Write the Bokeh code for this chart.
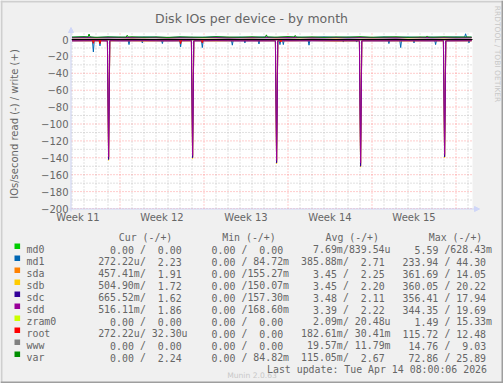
import numpy as np
from bokeh.plotting import figure
from bokeh.models import (Range1d, FixedTicker, LinearAxis, BoxAnnotation, Arrow, NormalHead)
from bokeh.core.properties import value
from bokeh.embed import file_html
from bokeh.resources import INLINE

# ---------------- data ----------------
DEVICES = ["md0", "md1", "sda", "sdb", "sdc", "sdd", "zram0", "root", "www", "var"]
COLORS = ["#00CC00", "#0066B3", "#FF8000", "#FFCC00", "#330099",
          "#990099", "#CCFF00", "#FF0000", "#808080", "#008F00"]

Y_TICKS = [0, -20, -40, -60, -80, -100, -120, -140, -160, -180, -200]
Y_MINOR = [-10, -30, -50, -70, -90, -110, -130, -150, -170, -190]
WEEK_LABELS = ["Week 11", "Week 12", "Week 13", "Week 14", "Week 15"]
WEEK_MID = [0.5, 7.5, 14.5, 21.5, 28.5]          # days from left edge
WEEK_START = [4, 11, 18, 25, 32]
DAY_MINOR = [0, 1, 2, 3, 5, 6, 7, 8, 9, 10, 12, 13, 14, 15, 16, 17, 19, 20, 21,
             22, 23, 24, 26, 27, 28, 29, 30, 31, 33]

# legend values (read / write)
CUR_READ = ["0.00", "272.22u", "457.41m", "504.90m", "665.52m", "516.11m", "0.00", "272.22u", "0.00", "0.00"]
CUR_WRITE = ["0.00", "2.23", "1.91", "1.72", "1.62", "1.86", "0.00", "32.30u", "0.00", "2.24"]
MIN_READ = ["0.00", "0.00", "0.00", "0.00", "0.00", "0.00", "0.00", "0.00", "0.00", "0.00"]
MIN_WRITE = ["0.00", "84.72m", "155.27m", "150.07m", "157.30m", "168.60m", "0.00", "0.00", "0.00", "84.82m"]
AVG_READ = ["7.69m", "385.88m", "3.45", "3.45", "3.48", "3.39", "2.09m", "182.61m", "19.57m", "115.05m"]
AVG_WRITE = ["839.54u", "2.71", "2.25", "2.20", "2.11", "2.22", "20.48u", "30.41m", "11.79m", "2.67"]
MAX_READ = ["5.59", "233.94", "361.69", "360.05", "356.41", "344.35", "1.49", "115.72", "14.76", "72.86"]
MAX_WRITE = ["628.43m", "44.30", "14.05", "20.22", "17.94", "19.69", "15.33m", "12.48", "9.03", "25.89"]

# time (days) of samples
T_FLAT = [0, 33.3]
T_DISK_R = [0, 2, 2.95, 3.05, 3.15, 4, 6, 8, 9.95, 10.05, 10.15, 12, 14, 16, 16.95, 17.05, 17.15,
            18, 20, 22, 23.95, 24.05, 24.15, 26, 28, 30, 30.95, 31.05, 31.15, 32, 33.3]
T_W = [0, 1, 2, 3, 4, 5, 6, 7, 8, 9, 10, 11, 12, 13, 14, 15, 16, 17, 18, 19, 20, 21, 22, 23,
       24, 25, 26, 27, 28, 29, 30, 31, 32, 33, 33.3]

# reads (IOs/s, plotted downward)
sda_read = [1.3, 1.6, 1.4, 141, 1.5, 1.2, 1.7, 1.3, 1.5, 139, 1.4, 1.6, 1.2, 1.5, 1.3, 145,
            1.6, 1.4, 1.2, 1.7, 1.4, 148, 1.3, 1.5, 1.6, 1.2, 1.5, 138, 1.4, 1.3, 1.5]
sdb_read = [1.4, 1.5, 1.3, 143, 1.6, 1.3, 1.5, 1.4, 1.6, 141, 1.3, 1.5, 1.4, 1.3, 1.5, 147,
            1.4, 1.5, 1.3, 1.6, 1.5, 151, 1.4, 1.3, 1.5, 1.4, 1.6, 140, 1.3, 1.5, 1.4]
sdc_read = [1.5, 1.4, 1.6, 142, 1.4, 1.5, 1.3, 1.6, 1.4, 140, 1.5, 1.4, 1.6, 1.4, 1.6, 146,
            1.5, 1.3, 1.5, 1.4, 1.6, 150, 1.5, 1.6, 1.3, 1.5, 1.4, 139, 1.6, 1.4, 1.5]
sdd_read = [1.6, 1.3, 1.5, 139, 1.3, 1.6, 1.4, 1.5, 1.3, 137, 1.6, 1.3, 1.5, 1.6, 1.4, 143,
            1.3, 1.6, 1.4, 1.5, 1.3, 146, 1.6, 1.4, 1.5, 1.6, 1.3, 136, 1.5, 1.6, 1.3]

md1_read_t = [0,
              1.70, 1.78, 1.86, 2.25, 2.33, 2.41, 4.67, 4.75, 4.83, 5.78, 5.86, 5.94,
              7.45, 7.53, 7.61, 8.97, 9.05, 9.13, 10.78, 10.86, 10.94, 13.28, 13.36, 13.44,
              14.33, 14.41, 14.49, 15.50, 15.58, 15.66, 17.25, 17.33, 17.41, 17.53, 17.61, 17.69,
              19.67, 19.75, 19.83, 22.53, 22.61, 22.69, 23.64, 23.72, 23.80, 26.33, 26.41, 26.49,
              27.31, 27.39, 27.47, 28.42, 28.50, 28.58, 30.22, 30.30, 30.38, 33.00, 33.08, 33.16,
              33.3]
md1_read = [0.3,
            0.4, 14.7, 0.3, 0.3, 7.5, 0.4, 0.3, 6.0, 0.2, 0.3, 4.0, 0.4,
            0.3, 4.8, 0.3, 0.4, 8.7, 0.3, 0.3, 9.5, 0.4, 0.3, 6.7, 0.3,
            0.2, 4.0, 0.3, 0.4, 5.3, 0.3, 0.3, 6.0, 0.4, 0.3, 6.0, 0.3,
            0.4, 6.7, 0.3, 0.3, 3.0, 0.2, 0.3, 3.0, 0.4, 0.3, 4.8, 0.3,
            0.4, 9.5, 0.3, 0.3, 4.0, 0.4, 0.3, 6.0, 0.3, 0.3, 4.0, 0.4,
            0.3]
root_read_t = [0, 1.70, 1.78, 1.86, 2.25, 2.33, 2.41, 8.97, 9.05, 9.13, 10.78, 10.86, 10.94,
               17.32, 17.40, 17.48, 33.3]
root_read = [0.1, 0.1, 4.5, 0.1, 0.1, 5.0, 0.1, 0.1, 5.0, 0.1, 0.1, 4.0, 0.1, 0.1, 3.0, 0.1, 0.1]
md0_read = [0.0, 0.0]
zram0_read = [0.0, 0.0]
www_read = [0.0, 0.0]
var_read = [0.1, 0.1]

# writes (IOs/s, plotted upward)
md1_write_t = [0, 1, 2, 3, 4, 5, 6, 7, 8, 9, 10, 11, 12, 13, 14, 15, 16, 17, 18, 19, 20, 21,
               22, 23, 24, 25, 26, 27, 28, 29, 30, 31, 32, 32.72, 32.80, 32.88, 33, 33.3]
md1_write = [2.6, 3.1, 2.4, 2.9, 2.7, 2.5, 3.0, 2.8, 2.4, 2.9, 2.6, 2.7, 3.2, 2.5, 2.8, 2.6,
             3.0, 2.4, 2.9, 2.7, 2.5, 3.1, 2.6, 2.8, 2.7, 2.4, 3.0, 2.6, 2.9, 2.5, 2.8, 2.7,
             3.0, 2.8, 6.8, 2.7, 2.6, 2.7]
sda_write = [2.1, 2.4, 2.0, 2.3, 2.2, 1.9, 2.5, 2.2, 2.0, 2.3, 2.1, 2.4, 2.2, 2.0, 2.3, 2.1,
             2.5, 1.9, 2.2, 2.3, 2.0, 2.4, 2.1, 2.2, 2.3, 2.0, 2.4, 2.1, 2.2, 2.0, 2.3, 2.2,
             2.1, 2.4, 2.2]
sdb_write = [2.2, 2.0, 2.3, 2.1, 2.4, 2.2, 2.0, 2.3, 2.1, 2.2, 2.4, 2.0, 2.1, 2.3, 2.2, 2.0,
             2.2, 2.4, 2.1, 2.0, 2.3, 2.2, 2.0, 2.4, 2.1, 2.2, 2.0, 2.3, 2.1, 2.4, 2.2, 2.0,
             2.3, 2.1, 2.2]
sdc_write = [2.0, 2.2, 2.1, 1.9, 2.3, 2.0, 2.2, 2.1, 1.9, 2.2, 2.0, 2.3, 2.1, 1.9, 2.2, 2.0,
             2.1, 2.3, 1.9, 2.2, 2.0, 2.1, 2.3, 1.9, 2.1, 2.2, 2.0, 1.9, 2.3, 2.1, 2.0, 2.2,
             1.9, 2.1, 2.0]
sdd_write = [2.3, 2.1, 2.2, 2.4, 2.0, 2.3, 2.1, 2.4, 2.2, 2.0, 2.3, 2.2, 2.4, 2.1, 2.0, 2.3,
             2.2, 2.1, 2.4, 2.3, 2.1, 2.0, 2.3, 2.2, 2.4, 2.1, 2.2, 2.0, 2.3, 2.4, 2.1, 2.3,
             2.2, 2.0, 2.3]
var_write_t = [0, 1, 1.34, 1.42, 1.50, 2, 3, 4, 4.52, 4.60, 4.68, 5, 6, 7, 8, 9, 10, 11, 12,
               13, 14, 15, 16, 16.12, 16.20, 16.28, 17, 18, 18.52, 18.60, 18.68, 19, 20, 21,
               22, 23, 24, 25, 26, 27, 28, 29, 29.52, 29.60, 29.68, 30, 31, 32, 33, 33.3]
var_write = [2.9, 3.3, 3.0, 6.5, 3.1, 2.6, 3.1, 2.8, 2.9, 5.0, 3.0, 3.2, 2.7, 3.0, 2.5, 3.1,
             2.8, 2.6, 3.3, 2.9, 2.7, 3.2, 2.6, 2.9, 5.5, 3.0, 2.8, 3.4, 3.0, 4.8, 2.9, 2.7,
             3.1, 2.6, 3.0, 2.8, 3.3, 2.7, 2.9, 3.2, 2.6, 3.0, 2.9, 4.2, 3.0, 2.7, 3.1, 2.8,
             3.0, 2.9]
md0_write = [0.0, 0.0]
zram0_write = [0.0, 0.0]
root_write = [0.0, 0.0]
www_write = [0.0, 0.0]

SERIES = {
    "md0":   (T_FLAT, md0_read, T_FLAT, md0_write),
    "md1":   (md1_read_t, md1_read, md1_write_t, md1_write),
    "sda":   (T_DISK_R, sda_read, T_W, sda_write),
    "sdb":   (T_DISK_R, sdb_read, T_W, sdb_write),
    "sdc":   (T_DISK_R, sdc_read, T_W, sdc_write),
    "sdd":   (T_DISK_R, sdd_read, T_W, sdd_write),
    "zram0": (T_FLAT, zram0_read, T_FLAT, zram0_write),
    "root":  (root_read_t, root_read, T_FLAT, root_write),
    "www":   (T_FLAT, www_read, T_FLAT, www_write),
    "var":   (T_FLAT, var_read, var_write_t, var_write),
}

# ---------------- layout ----------------
W, H = 503, 383
FL, FB, FT, PW = 71, 208, 32, 401        # plot area: left, bottom, top (canvas px), width
XS = 12.0                                # px per day
YMIN, YMAX = -200.0, 8.3
YS = (FB - FT) / (YMAX - YMIN)           # px per IO/s
X_START = -1.0 / 24
X_END = X_START + PW / XS

TXT = "#666666"
SANS = "DejaVu Sans"
MONO = "DejaVu Sans Mono"

# the frame covers the whole canvas; the default ranges are set so that the
# plot area lands where the reference draws it
p = figure(width=W, height=H, output_backend="svg", toolbar_location=None, title=None,
           x_range=Range1d(X_START - FL / XS, X_START + (W - FL) / XS),
           y_range=Range1d(YMIN - (H - FB) / YS, YMIN + FB / YS),
           x_axis_type=None, y_axis_type=None, min_border=0)
p.extra_x_ranges = {"px": Range1d(0, W)}
p.extra_y_ranges = {"px": Range1d(0, H)}
p.background_fill_color = "#f0f0f0"
p.border_fill_color = "#f0f0f0"
p.outline_line_color = None
p.grid.visible = False

PX = dict(x_range_name="px", y_range_name="px")

# canvas border and white plot area
p.quad(left=[0, 0], right=[W, 2], bottom=[H - 2, 0], top=[H, H],
       fill_color="#cfcfcf", line_color=None, **PX)
p.quad(left=[0, W - 2], right=[W, W], bottom=[0, 0], top=[2, H],
       fill_color="#9e9e9e", line_color=None, **PX)
p.add_layout(BoxAnnotation(left=X_START, right=X_END, bottom=YMIN, top=YMAX,
                           fill_color="#ffffff", fill_alpha=1.0, line_color=None,
                           level="underlay"))

# grid
p.segment(x0=DAY_MINOR, x1=DAY_MINOR, y0=YMIN, y1=YMAX, line_color="#b4b4b4",
          line_alpha=0.8, line_dash="1 2", line_width=1)
p.segment(x0=X_START, x1=X_END, y0=Y_MINOR, y1=Y_MINOR, line_color="#b4b4b4",
          line_alpha=0.8, line_dash="1 2", line_width=1)
p.segment(x0=WEEK_START, x1=WEEK_START, y0=YMIN, y1=YMAX, line_color="#ff0000",
          line_alpha=0.4, line_dash="1 2", line_width=1)
p.segment(x0=X_START, x1=X_END, y0=Y_TICKS, y1=Y_TICKS, line_color="#ff0000",
          line_alpha=0.4, line_dash="1 2", line_width=1)

# axes (fixed at the plot-area edges)
yaxis = LinearAxis(fixed_location=X_START, bounds=(YMIN, 0),
                   ticker=FixedTicker(ticks=Y_TICKS),
                   axis_label="IOs/second read (-) / write (+)",
                   axis_label_text_font=SANS, axis_label_text_font_size="10px",
                   axis_label_text_font_style="normal", axis_label_text_color=TXT,
                   axis_label_standoff=18,
                   major_label_text_font=SANS, major_label_text_font_size="10px",
                   major_label_text_color=TXT, major_label_standoff=3,
                   axis_line_color=None, major_tick_line_color=None,
                   major_tick_out=0, major_tick_in=0,
                   minor_tick_line_color=None, minor_tick_out=0, minor_tick_in=0)
xaxis = LinearAxis(fixed_location=YMIN, bounds=(X_START, X_END),
                   ticker=FixedTicker(ticks=WEEK_MID),
                   major_label_overrides={t: lab for t, lab in zip(WEEK_MID, WEEK_LABELS)},
                   major_label_text_font=SANS, major_label_text_font_size="10px",
                   major_label_text_color=TXT, major_label_standoff=3,
                   axis_line_color=None, major_tick_line_color=None,
                   major_tick_out=0, major_tick_in=0,
                   minor_tick_line_color=None, minor_tick_out=0, minor_tick_in=0)
p.add_layout(yaxis, "left")
p.add_layout(xaxis, "below")

# data lines
for name, col in zip(DEVICES, COLORS):
    tr, r, tw, w = SERIES[name]
    p.line(tr, -np.asarray(r, dtype=float), line_color=col, line_width=1)
    p.line(tw, np.asarray(w, dtype=float), line_color=col, line_width=1)

# zero rule across the plot area only
p.segment(x0=X_START, x1=X_END, y0=0, y1=0, line_color="#000000", line_width=1)

# axis arrows
AX = "#cfd6f8"
p.add_layout(Arrow(x_start=X_START - 0.5 / XS, y_start=YMIN - 3 / YS,
                   x_end=X_START - 0.5 / XS, y_end=YMIN + (FB - 27) / YS,
                   line_color=AX, line_width=1,
                   end=NormalHead(size=5, fill_color=AX, line_color=AX, line_width=1)))
p.add_layout(Arrow(x_start=X_START - 3 / XS, y_start=YMIN - 0.5 / YS,
                   x_end=X_START + (479 - FL) / XS, y_end=YMIN - 0.5 / YS,
                   line_color=AX, line_width=1,
                   end=NormalHead(size=5, fill_color=AX, line_color=AX, line_width=1)))

# title & side texts (canvas pixel positions, y measured from the top)
p.text(x=[251], y=[H - 17.5], text=["Disk IOs per device - by month"],
       text_font=value(SANS), text_font_size=value("12.5px"), text_color=TXT,
       text_align="center", text_baseline="alphabetic", **PX)
p.text(x=[496.5], y=[H - 53.5], text=["RRDTOOL / TOBI OETIKER"],
       text_font=value(SANS), text_font_size=value("7.5px"), text_color="#c8c8c8",
       text_align="center", text_baseline="middle", angle=-np.pi / 2, **PX)
p.text(x=[251.5], y=[H - 375], text=["Munin 2.0.63"],
       text_font=value(SANS), text_font_size=value("7.6px"), text_color="#c8c8c8",
       text_align="center", text_baseline="alphabetic", **PX)

# legend
CW = 5.97
X0 = 26.0
lx, ly, lt = [], [], []


def add(X, Y, s):
    lx.append(X)
    ly.append(H - Y)
    lt.append(s)


for hx, htxt in zip([118.3, 221.7, 325.0, 428.3],
                    ["Cur (-/+)", "Min (-/+)", "Avg (-/+)", "Max (-/+)"]):
    add(hx, 236.9, htxt)


def numlen(v):
    return len(v) - 1 if v[-1].isalpha() else len(v)


COLS = [(12, CUR_READ, CUR_WRITE), (29, MIN_READ, MIN_WRITE),
        (46, AVG_READ, AVG_WRITE), (63, MAX_READ, MAX_WRITE)]
sq_x, sq_y = [], []
for i, name in enumerate(DEVICES):
    yc = 245.7 + 12 * i
    yb = yc + 3.6
    sq_x.append(16.8)
    sq_y.append(H - yc)
    add(X0, yb, name)
    for c0, rd, wr in COLS:
        cx = X0 + c0 * CW
        add(cx + (6 - numlen(rd[i])) * CW, yb, rd[i])
        add(cx + 7 * CW, yb, "/")
        add(cx + (14 - numlen(wr[i])) * CW, yb, wr[i])

add(266.5, 368.6, "Last update: Tue Apr 14 08:00:06 2026")

p.rect(x=sq_x, y=sq_y, width=5.6, height=5.4, fill_color=COLORS, line_color=None, **PX)
p.text(x=lx, y=ly, text=lt, text_font=value(MONO), text_font_size=value("9.9px"),
       text_color=TXT, text_align="left", text_baseline="alphabetic", **PX)

open("out.html", "w").write(file_html(p, INLINE))
